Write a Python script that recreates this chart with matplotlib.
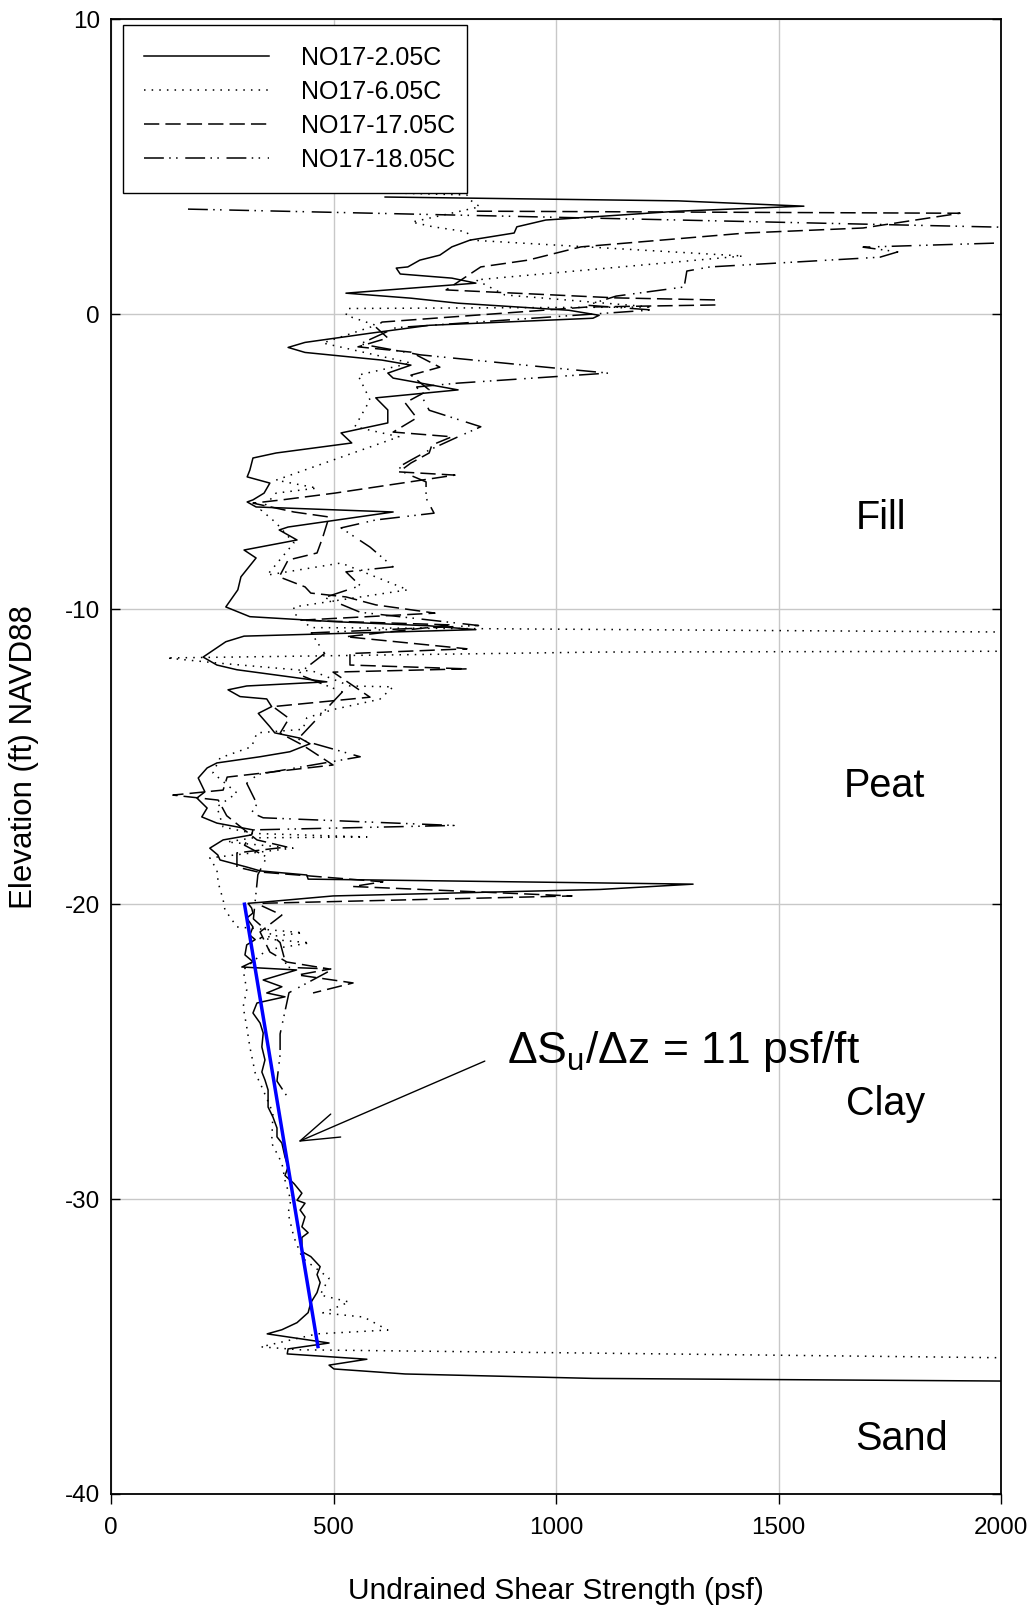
import matplotlib
matplotlib.use("Agg")
import matplotlib.pyplot as plt

plt.rcParams['font.family'] = ['Liberation Sans', 'DejaVu Sans']
plt.rcParams['mathtext.fontset'] = 'custom'
plt.rcParams['mathtext.rm'] = 'Liberation Sans'
plt.rcParams['axes.unicode_minus'] = False

labels = ['NO17-2.05C', 'NO17-6.05C', 'NO17-17.05C', 'NO17-18.05C']

# NO17-2.05C  (solid)
su_2 = [616, 1274, 1557, 1274, 977, 912, 906, 807, 766, 739, 694, 667, 641, 650, 766, 820,
        528, 674, 780, 1029, 1097, 1083, 715, 582, 436, 398, 436, 609, 674, 622, 634, 780,
        595, 622, 622, 517, 541, 371, 319, 312, 306, 357, 344, 319, 306, 326, 634, 398,
        378, 418, 299, 326, 292, 285, 258, 312, 503, 715, 820, 299, 258, 207, 238, 283,
        454, 485, 305, 263, 290, 350, 361, 331, 357, 368, 425, 447, 402, 335, 238, 216,
        196, 211, 193, 216, 204, 238, 319, 316, 252, 222, 240, 245, 305, 335, 440, 443,
        1099, 1308, 1099, 499, 342, 308, 316, 319, 305, 319, 312, 324, 305, 301, 319, 294,
        417, 342, 384, 350, 391, 328, 319, 335, 342, 339, 346, 339, 346, 353, 353, 364,
        373, 373, 384, 391, 398, 391, 411, 429, 418, 436, 425, 436, 429, 443, 429, 429,
        449, 470, 463, 470, 463, 449, 443, 418, 384, 351, 490, 398, 396, 575, 490, 501,
        661, 1083, 2002]
el_2 = [3.98, 3.85, 3.67, 3.50, 3.20, 2.97, 2.76, 2.52, 2.29, 2.01, 1.84, 1.61, 1.57, 1.37, 1.23, 1.06,
        0.72, 0.55, 0.38, 0.14, -0.03, -0.13, -0.37, -0.64, -0.95, -1.12, -1.29, -1.55, -1.72, -1.99, -2.16, -2.56,
        -2.83, -3.24, -3.68, -4.02, -4.36, -4.70, -4.87, -5.28, -5.51, -5.72, -6.06, -6.29, -6.36, -6.53, -6.70, -7.21,
        -7.31, -7.65, -7.99, -8.26, -8.90, -9.34, -9.92, -10.25, -10.42, -10.56, -10.69, -10.91, -11.10, -11.62, -11.89, -12.05,
        -12.40, -12.46, -12.60, -12.73, -12.96, -13.04, -13.30, -13.53, -13.98, -14.19, -14.37, -14.56, -14.83, -15.00, -15.21, -15.38,
        -15.72, -16.19, -16.40, -16.74, -17.04, -17.25, -17.48, -17.65, -17.82, -18.10, -18.33, -18.50, -18.74, -18.87, -19.01, -19.15,
        -19.28, -19.32, -19.50, -19.72, -19.93, -19.97, -20.13, -20.30, -20.47, -20.77, -21.05, -21.20, -21.38, -21.72, -21.95, -22.13,
        -22.23, -22.57, -22.80, -23.01, -23.14, -23.35, -23.69, -24.03, -24.37, -24.84, -25.28, -25.69, -25.96, -26.30, -26.88, -27.22,
        -27.59, -27.89, -28.10, -28.57, -28.91, -29.20, -29.47, -29.80, -30.04, -30.14, -30.37, -30.60, -30.94, -31.14, -31.30, -31.78,
        -31.95, -32.29, -32.56, -32.83, -33.17, -33.51, -33.85, -34.19, -34.43, -34.57, -34.88, -35.08, -35.25, -35.43, -35.63, -35.76,
        -35.93, -36.08, -36.17]

# NO17-6.05C  (dotted)
su_6 = [627, 800, 807, 829, 676, 724, 800, 807, 1420, 820, 885, 1216, 533, 528, 595, 476,
        674, 555, 568, 582, 548, 647, 371, 463, 371, 337, 371, 411, 351, 517, 667, 411,
        411, 449, 2100, 2100, 1099, 125, 238, 454, 537, 634, 604, 499, 440, 431, 328, 316,
        245, 229, 283, 238, 252, 319, 575, 319, 261, 409, 222, 238, 241, 252, 256, 283,
        431, 328, 447, 350, 297, 305, 297, 305, 312, 324, 339, 364, 361, 384, 391, 404,
        398, 411, 430, 490, 470, 535, 476, 568, 622, 463, 337, 425, 2002]
el_6 = [4.12, 4.05, 3.88, 3.65, 3.13, 2.97, 2.80, 2.52, 1.98, 1.17, 0.66, 0.25, 0.20, -0.03, -0.37, -0.97,
        -1.65, -2.06, -2.46, -2.90, -3.81, -4.15, -5.62, -5.89, -6.06, -6.63, -7.07, -7.75, -8.84, -8.43, -9.34, -9.92,
        -10.13, -10.62, -10.78, -11.42, -11.45, -11.65, -11.82, -12.10, -12.60, -12.63, -13.05, -13.40, -13.68, -14.07, -14.19, -14.66,
        -15.04, -15.55, -16.23, -16.70, -17.38, -17.60, -17.72, -17.75, -17.89, -18.10, -18.43, -18.84, -19.28, -19.85, -20.19, -20.77,
        -20.97, -21.15, -21.31, -21.55, -22.23, -22.90, -23.48, -24.16, -24.84, -25.72, -26.20, -27.08, -28.10, -28.78, -29.36, -30.04,
        -30.48, -31.29, -32.00, -32.68, -33.25, -33.49, -33.86, -34.00, -34.44, -34.57, -35.01, -35.11, -35.38]

# NO17-17.05C  (dashed)
su_17 = [822, 1908, 1690, 1427, 1056, 937, 831, 753, 1135, 1359, 1359, 1070, 609, 595, 622, 555,
         674, 739, 674, 715, 661, 687, 634, 766, 721, 715, 674, 647, 773, 503, 384, 319,
         411, 490, 476, 463, 398, 378, 436, 449, 528, 595, 728, 425, 766, 528, 800, 537,
         537, 800, 499, 582, 364, 400, 380, 430, 499, 261, 252, 139, 241, 260, 328, 395,
         283, 283, 328, 611, 544, 1036, 335, 335, 384, 335, 357, 395, 492, 420, 544, 454]
el_17 = [3.50, 3.43, 2.93, 2.76, 2.29, 1.84, 1.61, 0.83, 0.56, 0.49, 0.32, 0.25, -0.26, -0.43, -0.80, -1.10,
         -1.28, -1.79, -2.06, -2.56, -3.00, -3.51, -3.99, -4.15, -4.43, -4.70, -5.04, -5.34, -5.45, -6.06, -6.29, -6.40,
         -6.70, -6.87, -7.55, -8.09, -8.33, -8.90, -9.24, -9.45, -9.58, -9.85, -10.13, -10.37, -10.53, -10.93, -11.34, -11.50,
         -11.89, -12.02, -12.13, -12.98, -13.30, -13.70, -14.20, -14.60, -15.28, -15.69, -16.13, -16.30, -16.47, -17.00, -17.82, -18.06,
         -18.26, -18.74, -18.90, -19.24, -19.40, -19.72, -19.97, -20.03, -20.37, -20.94, -21.62, -21.96, -22.20, -22.40, -22.67, -23.01]

# NO17-18.05C  (dash-dot-dot)
su_18 = [173, 1993, 2150, 1993, 1690, 1768, 1728, 1346, 1294, 1288, 1135, 1070, 1216, 640, 560, 694,
         977, 1117, 780, 687, 715, 831, 780, 715, 674, 647, 661, 708, 708, 726, 595, 517,
         582, 634, 528, 560, 480, 560, 826, 450, 480, 420, 520, 470, 420, 560, 330, 305,
         328, 316, 342, 771, 319, 300, 350, 330, 320, 380, 395, 499, 400, 380, 380, 373, 395]
el_18 = [3.57, 2.96, 2.70, 2.42, 2.28, 2.12, 1.94, 1.61, 1.47, 0.93, 0.62, 0.31, 0.15, -0.45, -1.00, -1.37,
         -1.79, -1.99, -2.33, -2.46, -3.25, -3.81, -4.15, -4.60, -4.94, -5.17, -5.38, -5.68, -6.23, -6.74, -6.97, -7.24,
         -7.89, -8.56, -8.73, -9.20, -9.60, -10.10, -10.55, -10.80, -11.50, -12.20, -12.80, -13.60, -14.40, -15.00, -15.60, -15.90,
         -16.60, -16.90, -17.07, -17.33, -17.48, -18.00, -18.40, -19.00, -20.50, -21.30, -22.14, -22.20, -23.00, -24.40, -25.10, -26.00, -26.50]

# trend line in the clay
fit_su = [300, 465]
fit_el = [-20, -35]

layers = ['Fill', 'Peat', 'Clay', 'Sand']
layer_x = [1730, 1739, 1741, 1777]
layer_el = [-7.28, -16.36, -27.15, -38.5]

fig = plt.figure(figsize=(10.34, 16.10), dpi=100)
ax = fig.add_axes([0.10735, 0.07205, 0.86074, 0.91584])

lw = 1.1
ax.plot(su_2, el_2, color='black', lw=lw, ls='-', label=labels[0])
ax.plot(su_6, el_6, color='black', lw=lw, ls=(0, (1, 4)), label=labels[1])
ax.plot(su_17, el_17, color='black', lw=lw, ls=(0, (10, 4)), label=labels[2])
ax.plot(su_18, el_18, color='black', lw=lw, ls=(0, (13, 3.5, 1, 3.5, 1, 5)), label=labels[3])
ax.plot(fit_su, fit_el, color='#0000ff', lw=2.5)

ax.set_xlim(0, 2000)
ax.set_ylim(-40, 10)
ax.set_xticks([0, 500, 1000, 1500, 2000])
ax.set_yticks([-40, -30, -20, -10, 0, 10])
ax.grid(True, color='#c8c8c8', lw=1.0)
ax.set_axisbelow(True)
for sp in ax.spines.values():
    sp.set_linewidth(1.3)

ax.tick_params(axis='x', direction='out', length=7, width=1, labelsize=17.5, pad=9.5)
ax.tick_params(axis='y', direction='in', length=6.5, width=1, labelsize=17.5, pad=8, right=True)

ax.set_xlabel('Undrained Shear Strength (psf)', fontsize=21.5)
ax.xaxis.set_label_coords(0.5, -0.056)
ax.set_ylabel('Elevation (ft) NAVD88', fontsize=22.5)
ax.yaxis.set_label_coords(-0.081, 0.5)

for name, x, y in zip(layers, layer_x, layer_el):
    ax.text(x, y, name, fontsize=28.5, ha='center', va='baseline')

ax.annotate('', xy=(420, -28.06), xytext=(840, -25.32),
            arrowprops=dict(arrowstyle='->,head_length=1.4,head_width=0.45', lw=1, color='black',
                            mutation_scale=20, shrinkA=0, shrinkB=0))
ax.text(890, -25.38, r'$\Delta$S$_\mathregular{u}$/$\Delta$z = 11 psf/ft', fontsize=32,
        ha='left', va='baseline')

leg = ax.legend(loc='upper left', bbox_to_anchor=(0.0135, 0.9963, 0.3865, 0.0), mode='expand',
                fontsize=18, handlelength=5.0, handletextpad=1.25, labelspacing=0.4,
                borderpad=0.85, borderaxespad=0, fancybox=False, framealpha=1)
leg.get_frame().set_edgecolor('black')
leg.get_frame().set_linewidth(1.0)

fig.savefig('out.png', dpi=100)
